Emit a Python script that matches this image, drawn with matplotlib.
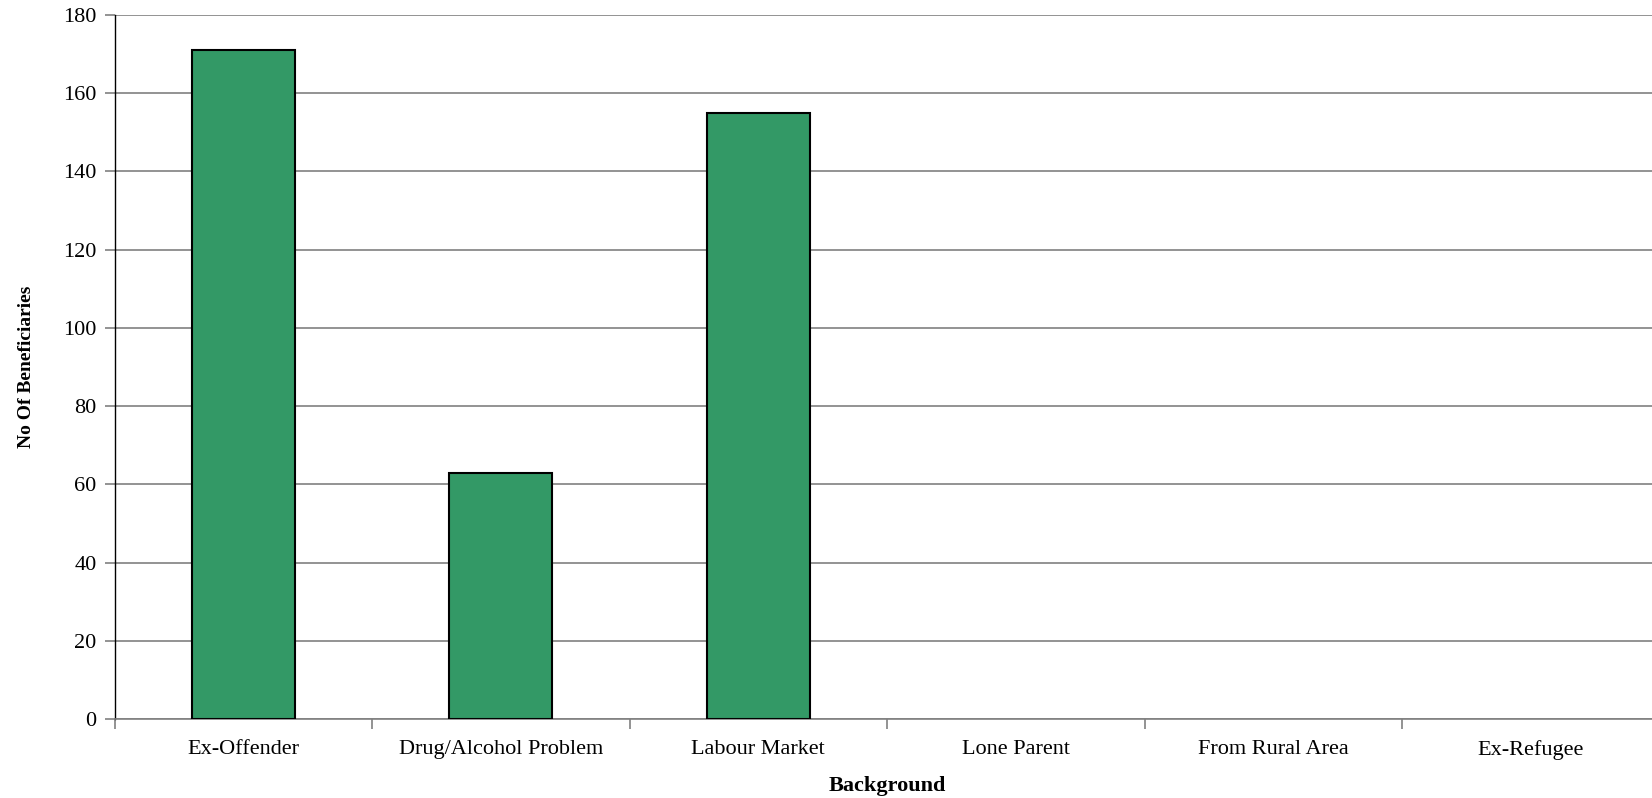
import numpy as np
import matplotlib
matplotlib.use("Agg")
import matplotlib.pyplot as plt

categories = ["Ex-Offender", "Drug/Alcohol Problem", "Labour Market",
              "Lone Parent", "From Rural Area", "Ex-Refugee"]
beneficiaries = [171, 63, 155, 0, 0, 0]
y_ticks = [0, 20, 40, 60, 80, 100, 120, 140, 160, 180]

plt.rcParams['font.family'] = ['Liberation Serif', 'DejaVu Serif']

W, H = 1652, 798
fig = plt.figure(figsize=(W / 100, H / 100), dpi=100)
# axes runs a little past the right edge of the picture, as in the original
left, right, top, bottom = 114.5, 1659.5, 15, 719
ax = fig.add_axes([left / W, 1 - bottom / H, (right - left) / W, (bottom - top) / H])

x = np.arange(len(categories))
lw = [1.5 if v > 0 else 0 for v in beneficiaries]  # empty categories show no outline
ax.bar(x, beneficiaries, width=0.4, color="#339966", edgecolor="black", linewidth=lw, zorder=3)

ax.set_xlim(-0.5, len(categories) - 0.5)
ax.set_ylim(0, 180)
ax.set_yticks(y_ticks)
ax.yaxis.grid(True, color="#808080", linewidth=1.2, zorder=0)
for s in ["top", "right"]:
    ax.spines[s].set_visible(False)
ax.spines["bottom"].set_color("#808080")
ax.spines["bottom"].set_linewidth(1.2)
ax.spines["left"].set_linewidth(1.0)

ax.set_xticks(x)
ax.set_xticklabels(categories, fontsize=16)
ax.tick_params(axis="x", length=0, pad=15)
ax.set_xticks(np.arange(len(categories)) - 0.5, minor=True)
ax.tick_params(axis="x", which="minor", length=7, color="#808080", width=1.2)
ax.tick_params(axis="y", labelsize=16, length=7, color="#808080", width=1.2, pad=6)

ax.set_xlabel("Background", fontsize=16, fontweight="bold", labelpad=12)
ax.set_ylabel("No Of Beneficiaries", fontsize=14, fontweight="bold", labelpad=20)

fig.savefig("out.png", dpi=100)
